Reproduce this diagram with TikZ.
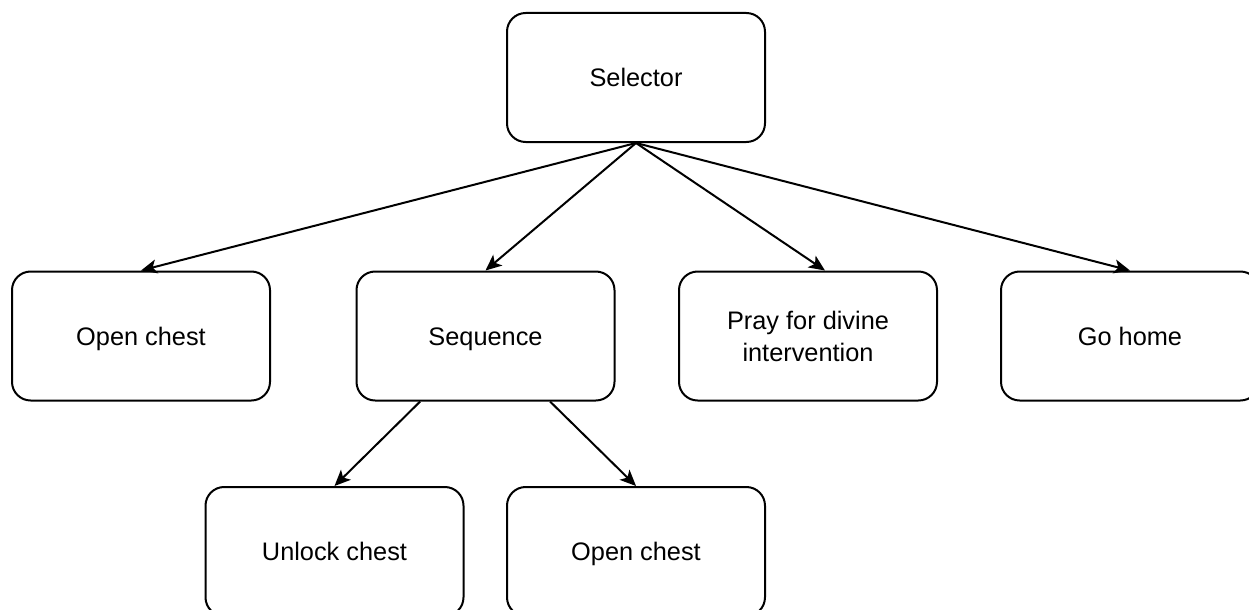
\documentclass[tikz,border=0pt]{standalone}
\usepackage{fontspec}
\setmainfont{Liberation Sans}
\usetikzlibrary{arrows.meta}
\begin{document}
\begin{tikzpicture}[x=0.75pt,y=-0.75pt,
  box/.style={draw, line width=1.5pt, rounded corners=14pt, minimum width=193.5pt, minimum height=96.75pt, align=center, inner sep=0pt, font=\fontsize{19pt}{24pt}\selectfont},
  onebox/.style={box, text height=16pt, text depth=1.8pt},
  conn/.style={line width=1.5pt, -{Stealth[length=12pt,width=10.5pt,inset=3pt]}}]
\useasboundingbox (0,0) rectangle (1249,610);
\clip (0,0) rectangle (1249,610);
\node[onebox] (sel) at (636,77.5) {Selector};
\node[onebox] (oc1) at (141,336) {Open chest};
\node[onebox] (seq) at (485.5,336) {Sequence};
\node[box] (pray) at (808,336) {Pray for divine\\intervention};
\node[onebox] (home) at (1130,336) {Go home};
\node[onebox] (unl) at (334.5,551.5) {Unlock chest};
\node[onebox] (oc2) at (636,551.5) {Open chest};
\draw[conn] (sel.south) -- (oc1.north);
\draw[conn] (sel.south) -- (seq.north);
\draw[conn] (sel.south) -- ([xshift=12.75pt]pray.north);
\draw[conn] (sel.south) -- (home.north);
\draw[conn] ([xshift=-49pt]seq.south) -- (unl.north);
\draw[conn] ([xshift=48.4pt]seq.south) -- (oc2.north);
\end{tikzpicture}
\end{document}
